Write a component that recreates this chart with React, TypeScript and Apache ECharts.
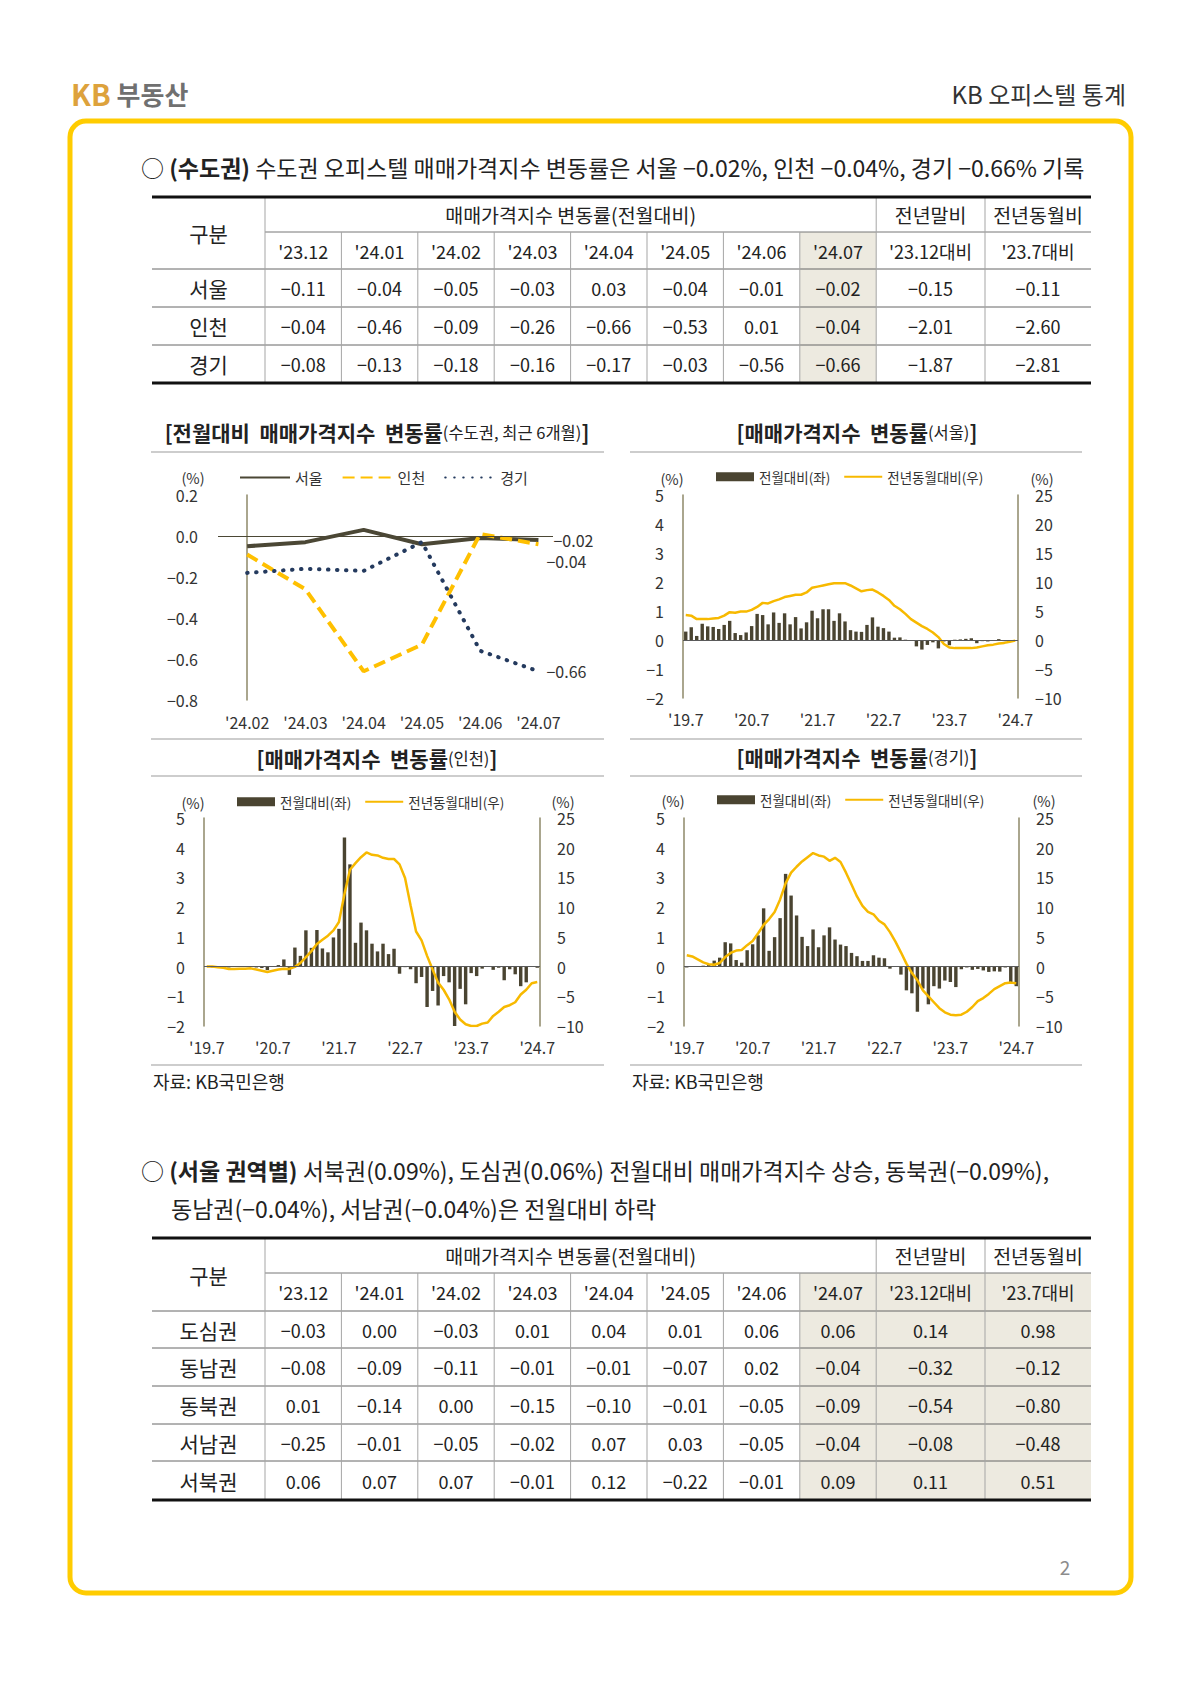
import React, { useEffect, useRef } from "react";
import * as echarts from "echarts";

const FONT = '"Noto Sans CJK KR", "Noto Sans", sans-serif';

// ---------------- data ----------------
const monthsLong = [
  "'19.7", "'19.8", "'19.9", "'19.10", "'19.11", "'19.12",
  "'20.1", "'20.2", "'20.3", "'20.4", "'20.5", "'20.6", "'20.7", "'20.8", "'20.9", "'20.10", "'20.11", "'20.12",
  "'21.1", "'21.2", "'21.3", "'21.4", "'21.5", "'21.6", "'21.7", "'21.8", "'21.9", "'21.10", "'21.11", "'21.12",
  "'22.1", "'22.2", "'22.3", "'22.4", "'22.5", "'22.6", "'22.7", "'22.8", "'22.9", "'22.10", "'22.11", "'22.12",
  "'23.1", "'23.2", "'23.3", "'23.4", "'23.5", "'23.6", "'23.7", "'23.8", "'23.9", "'23.10", "'23.11", "'23.12",
  "'24.1", "'24.2", "'24.3", "'24.4", "'24.5", "'24.6", "'24.7",
];

const recentMonths = ["'24.02", "'24.03", "'24.04", "'24.05", "'24.06", "'24.07"];

const tableMonths = ["'23.12", "'24.01", "'24.02", "'24.03", "'24.04", "'24.05", "'24.06", "'24.07"];
const tableCompare = ["'23.12대비", "'23.7대비"];

const metroRegions = ["서울", "인천", "경기"];
const metroSeoul = [-0.11, -0.04, -0.05, -0.03, 0.03, -0.04, -0.01, -0.02, -0.15, -0.11];
const metroIncheon = [-0.04, -0.46, -0.09, -0.26, -0.66, -0.53, 0.01, -0.04, -2.01, -2.6];
const metroGyeonggi = [-0.08, -0.13, -0.18, -0.16, -0.17, -0.03, -0.56, -0.66, -1.87, -2.81];

const districtNames = ["도심권", "동남권", "동북권", "서남권", "서북권"];
const districtDosim = [-0.03, 0.0, -0.03, 0.01, 0.04, 0.01, 0.06, 0.06, 0.14, 0.98];
const districtDongnam = [-0.08, -0.09, -0.11, -0.01, -0.01, -0.07, 0.02, -0.04, -0.32, -0.12];
const districtDongbuk = [0.01, -0.14, 0.0, -0.15, -0.1, -0.01, -0.05, -0.09, -0.54, -0.8];
const districtSeonam = [-0.25, -0.01, -0.05, -0.02, 0.07, 0.03, -0.05, -0.04, -0.08, -0.48];
const districtSeobuk = [0.06, 0.07, 0.07, -0.01, 0.12, -0.22, -0.01, 0.09, 0.11, 0.51];

const seoulMoM = [
  0.29, 0.44, 0.14, 0.56, 0.47, 0.45, 0.38, 0.52, 0.66, 0.24, 0.17, 0.26,
  0.48, 0.9, 0.86, 0.54, 0.95, 0.59, 0.92, 0.54, 0.79, 0.4, 0.61, 1.01,
  0.75, 1.06, 1.06, 0.66, 0.92, 0.64, 0.34, 0.29, 0.28, 0.52, 0.78, 0.46,
  0.41, 0.29, 0.08, 0.09, 0.01, -0.03, -0.22, -0.33, -0.17, -0.08, -0.29, -0.05,
  -0.18, 0.01, 0.02, 0.04, 0.06, -0.11, -0.04, -0.05, -0.03, 0.03, -0.04, -0.01, -0.02,
];
const seoulYoY = [
  4.3, 4.2, 3.6, 3.6, 3.6, 3.7, 3.8, 4.2, 4.8, 4.7, 4.9, 4.9,
  5.2, 5.7, 6.4, 6.3, 6.7, 7.0, 7.4, 7.6, 7.8, 7.8, 8.2, 9.0,
  9.2, 9.4, 9.6, 9.8, 9.8, 9.8, 9.4, 8.9, 8.4, 8.6, 8.7, 8.2,
  7.6, 6.9, 5.9, 5.3, 4.5, 3.6, 3.0, 2.4, 1.9, 1.3, 0.5, -0.7,
  -1.3, -1.4, -1.4, -1.4, -1.4, -1.3, -1.1, -0.9, -0.8, -0.6, -0.5, -0.3, -0.11,
];

const incheonMoM = [
  0.0, -0.03, -0.01, -0.01, -0.03, 0.0, 0.0, 0.0, -0.01, -0.03, -0.05, -0.12,
  0.0, 0.05, 0.24, -0.28, 0.64, 0.36, 1.22, 0.63, 1.23, 0.61, 0.48, 0.98,
  1.27, 4.34, 3.44, 0.8, 1.48, 1.22, 0.77, 0.51, 0.77, 0.42, 0.6, -0.24,
  -0.02, -0.09, -0.56, -0.35, -1.36, -0.82, -1.31, -0.32, -0.53, -2.0, -0.75, -1.27,
  -0.22, -0.32, -0.07, -0.01, -0.11, -0.04, -0.46, -0.09, -0.26, -0.66, -0.53, 0.01, -0.04,
];
const incheonYoY = [
  0.0, 0.0, -0.1, -0.2, -0.4, -0.4, -0.35, -0.35, -0.3, -0.5, -0.7, -0.9,
  -0.7, -0.5, -0.35, -0.4, -0.05, 0.6, 1.6, 2.6, 3.8, 4.5, 5.2, 6.1,
  7.5, 12.2, 16.3, 17.4, 18.4, 19.2, 18.8, 18.7, 18.3, 18.1, 18.1, 17.2,
  14.9, 10.3, 5.9, 4.4, 1.8, -0.5, -2.7, -3.9, -5.5, -7.6, -8.9, -9.7,
  -10.0, -10.0, -9.6, -9.4, -8.3, -7.6, -6.8, -6.5, -6.0, -4.7, -3.9, -2.8, -2.6,
];

const gyeonggiMoM = [
  -0.03, 0.01, 0.0, 0.03, 0.05, 0.2, 0.3, 0.82, 0.78, 0.22, 0.13, 0.55,
  0.75, 1.05, 1.96, 0.53, 0.99, 1.63, 3.12, 2.39, 1.72, 1.0, 0.69, 1.25,
  0.65, 1.05, 1.32, 0.91, 0.74, 0.69, 0.46, 0.35, 0.19, 0.19, 0.38, 0.3,
  0.28, -0.07, -0.01, -0.27, -0.8, -0.9, -1.52, -0.74, -1.27, -0.66, -0.74, -0.47,
  -0.52, -0.69, -0.09, -0.03, -0.11, -0.08, -0.13, -0.18, -0.16, -0.17, -0.03, -0.56, -0.66,
];
const gyeonggiYoY = [
  1.9, 1.7, 1.2, 0.7, 0.4, 0.3, 0.6, 1.6, 2.3, 2.7, 2.8, 3.6,
  4.3, 5.6, 7.0, 8.0, 9.2, 11.3, 14.0, 15.8, 16.8, 17.7, 18.4, 19.1,
  18.7, 18.5, 17.8, 18.3, 17.6, 15.8, 13.8, 11.8, 10.2, 9.2, 8.8, 7.7,
  7.1, 5.8, 4.2, 2.4, 0.5, -1.1, -2.3, -4.0, -5.0, -6.0, -7.0, -7.7,
  -8.1, -8.2, -8.1, -7.6, -6.8, -5.8, -5.3, -4.6, -3.8, -3.3, -2.8, -2.7, -2.81,
];

const unitLabel = "(%)";

// ---------------- styles / layout ----------------
const AXIS_COLOR = "#8E8968";
const BAR_COLOR = "#4A4431";
const YOY_COLOR = "#F7B900";
const TEXT = "#222";
const SEP = "#BDBDBD";
const HILITE = "#EDEAE0";
const TABLE_COLS = [152, 265, 341.4, 417.8, 494.2, 570.6, 647, 723.4, 799.8, 876.2, 985, 1091];
const TOP_ROWS = [197, 232, 269, 307, 345, 383];
const BOTTOM_ROWS = [1238, 1273, 1311, 1348, 1386, 1424, 1461, 1500];

const fmt2 = (v: number) => (v < 0 ? "\u2212" : "") + Math.abs(v).toFixed(2);
const fmtInt = (v: number) => (v < 0 ? "\u2212" : "") + Math.abs(v);
const fmt1 = (v: number) => {
  const r = Math.round(v * 10) / 10;
  return (r < 0 ? "\u2212" : "") + Math.abs(r).toFixed(1);
};

function txt(x: number, y: number, text: string, o: any = {}) {
  const align = o.align || "center";
  const va = o.va || "middle";
  return {
    type: "text",
    x,
    y,
    silent: true,
    style: {
      text,
      fontSize: o.size || 18,
      fontFamily: FONT,
      fontWeight: o.weight || "normal",
      fill: o.color || TEXT,
      align,
      verticalAlign: va,
      textAlign: align,
      textVerticalAlign: va,
      rich: o.rich,
    },
  };
}
function ln(x1: number, y1: number, x2: number, y2: number, stroke: string, w: number) {
  return { type: "line", silent: true, shape: { x1, y1, x2, y2 }, style: { stroke, lineWidth: w } };
}
function rc(x: number, y: number, w: number, h: number, fill: string) {
  return { type: "rect", silent: true, shape: { x, y, width: w, height: h }, style: { fill } };
}

function tableElements(rowsY: number[], names: string[], rows: number[][], hiTo: number) {
  const C = TABLE_COLS;
  const top = rowsY[0];
  const h1 = rowsY[1];
  const h2 = rowsY[2];
  const bottom = rowsY[rowsY.length - 1];
  const els: any[] = [];
  els.push(rc(C[8], h1, C[hiTo] - C[8], bottom - h1, HILITE));
  els.push(ln(C[1], h1, C[11], h1, "#777", 1));
  for (let r = 2; r < rowsY.length - 1; r++) els.push(ln(C[0], rowsY[r], C[11], rowsY[r], "#666", 1));
  [1, 9, 10].forEach((c) => els.push(ln(C[c], top, C[c], bottom, "#A5A5A5", 1)));
  for (let c = 2; c <= 8; c++) els.push(ln(C[c], h1, C[c], bottom, "#A5A5A5", 1));
  els.push(ln(C[0], top, C[11], top, "#111", 3));
  els.push(ln(C[0], bottom, C[11], bottom, "#111", 3));
  els.push(txt((C[0] + C[1]) / 2, (top + h2) / 2, "구분", { size: 21 }));
  els.push(txt((C[1] + C[9]) / 2, (top + h1) / 2, "매매가격지수 변동률(전월대비)", { size: 19.5 }));
  els.push(txt((C[9] + C[10]) / 2, (top + h1) / 2, "전년말비", { size: 19.5 }));
  els.push(txt((C[10] + C[11]) / 2, (top + h1) / 2, "전년동월비", { size: 19.5 }));
  const heads = [...tableMonths, ...tableCompare];
  heads.forEach((h, i) => els.push(txt((C[i + 1] + C[i + 2]) / 2, (h1 + h2) / 2, h, { size: 18 })));
  rows.forEach((row, r) => {
    const cy = (rowsY[r + 2] + rowsY[r + 3]) / 2;
    els.push(txt((C[0] + C[1]) / 2, cy, names[r], { size: 21 }));
    row.forEach((v, i) => els.push(txt((C[i + 1] + C[i + 2]) / 2, cy, fmt2(v), { size: 18 })));
  });
  return els;
}

function chartTitle(cx: number, cy: number, bold: string, normal: string) {
  return txt(cx, cy, `{b|[${bold}}{n|(${normal})}{b|]}`, {
    rich: {
      b: { fontSize: 21, fontWeight: "bold", fontFamily: FONT, fill: TEXT },
      n: { fontSize: 16.5, fontFamily: FONT, fill: TEXT },
    },
  });
}

function buildOption() {
  const axisLabelStyle = { color: "#333", fontSize: 16, fontFamily: FONT };
  const axisLine = { show: true, lineStyle: { color: AXIS_COLOR, width: 1.5 } };

  const grids = [
    { left: 218, top: 495, width: 335, height: 205 },
    { left: 683, top: 495, width: 335, height: 203 },
    { left: 204, top: 818, width: 336, height: 208 },
    { left: 684, top: 818, width: 335, height: 208 },
  ];

  const xAxis: any[] = [
    {
      type: "value",
      gridIndex: 0,
      min: -0.5,
      max: 5.25,
      axisLine: { show: false },
      axisTick: { show: false },
      splitLine: { show: false },
      axisLabel: {
        ...axisLabelStyle,
        margin: 14,
        customValues: [0, 1, 2, 3, 4, 5],
        formatter: (v: number) => recentMonths[Math.round(v)] || "",
      },
    },
  ];
  const yAxis: any[] = [
    {
      type: "value",
      gridIndex: 0,
      min: -0.8,
      max: 0.2,
      interval: 0.2,
      axisLine,
      axisTick: { show: false },
      splitLine: { show: false },
      axisLabel: { ...axisLabelStyle, margin: 20, formatter: fmt1 },
    },
  ];

  const series: any[] = [];
  const hiddenSymbol = { opacity: 0 };
  const legends: any[] = [
    {
      left: 234,
      top: 465,
      itemWidth: 50,
      itemHeight: 14,
      itemGap: 19,
      selectedMode: false,
      data: metroRegions.map((n) => ({ name: n, itemStyle: hiddenSymbol })),
      textStyle: { color: "#333", fontSize: 15, fontFamily: FONT },
    },
  ];

  const recentSeoul = metroSeoul.slice(2, 8);
  const recentIncheon = metroIncheon.slice(2, 8);
  const recentGyeonggi = metroGyeonggi.slice(2, 8);
  const endLabel = (offset: number[]) => ({
    show: true,
    formatter: (p: any) => fmt2(p.value[1]),
    distance: 8,
    offset,
    color: "#333",
    fontSize: 16,
    fontFamily: FONT,
  });
  series.push({
    name: metroRegions[0],
    type: "line",
    xAxisIndex: 0,
    yAxisIndex: 0,
    symbol: "none",
    data: recentSeoul.map((v, i) => [i, v]),
    lineStyle: { color: "#4B4735", width: 4 },
    itemStyle: { color: "#4B4735" },
    endLabel: endLabel([7, 0]),
    markLine: {
      silent: true,
      symbol: ["none", "none"],
      label: { show: false },
      lineStyle: { color: "#4B4735", width: 1.2, type: "solid" },
      data: [{ yAxis: 0 }],
    },
  });
  series.push({
    name: metroRegions[1],
    type: "line",
    xAxisIndex: 0,
    yAxisIndex: 0,
    symbol: "none",
    data: recentIncheon.map((v, i) => [i, v]),
    lineStyle: { color: "#FFC000", width: 4, type: [12, 6] },
    itemStyle: { color: "#FFC000" },
    endLabel: endLabel([0, 17]),
  });
  series.push({
    name: metroRegions[2],
    type: "line",
    xAxisIndex: 0,
    yAxisIndex: 0,
    symbol: "none",
    data: recentGyeonggi.map((v, i) => [i, v]),
    lineStyle: { color: "#243A5E", width: 4, type: [0.5, 8.5], cap: "round" },
    itemStyle: { color: "#243A5E" },
    endLabel: endLabel([0, 0]),
  });

  const dual = [
    { grid: 1, mom: seoulMoM, yoy: seoulYoY, legendLeft: 711, legendCy: 473 },
    { grid: 2, mom: incheonMoM, yoy: incheonYoY, legendLeft: 232, legendCy: 798 },
    { grid: 3, mom: gyeonggiMoM, yoy: gyeonggiYoY, legendLeft: 712, legendCy: 796 },
  ];
  dual.forEach((d) => {
    const xi = xAxis.length;
    xAxis.push({
      type: "category",
      gridIndex: d.grid,
      data: monthsLong,
      boundaryGap: true,
      axisLine: { show: false },
      axisTick: { show: false },
      axisLabel: { ...axisLabelStyle, interval: 11, margin: 13 },
    });
    const yl = yAxis.length;
    yAxis.push({
      type: "value",
      gridIndex: d.grid,
      position: "left",
      min: -2,
      max: 5,
      interval: 1,
      axisLine,
      axisTick: { show: false },
      splitLine: { show: false },
      axisLabel: { ...axisLabelStyle, margin: 19, formatter: fmtInt },
    });
    yAxis.push({
      type: "value",
      gridIndex: d.grid,
      position: "right",
      min: -10,
      max: 25,
      interval: 5,
      axisLine,
      axisTick: { show: false },
      splitLine: { show: false },
      axisLabel: { ...axisLabelStyle, margin: 17, formatter: fmtInt },
    });
    series.push({
      name: "전월대비(좌)",
      type: "bar",
      xAxisIndex: xi,
      yAxisIndex: yl,
      data: d.mom,
      barWidth: "62%",
      itemStyle: { color: BAR_COLOR },
      markLine: {
        silent: true,
        symbol: ["none", "none"],
        label: { show: false },
        lineStyle: { color: "#5A5A5A", width: 1.2, type: "solid" },
        data: [{ yAxis: 0 }],
      },
    });
    series.push({
      name: "전년동월대비(우)",
      type: "line",
      xAxisIndex: xi,
      yAxisIndex: yl + 1,
      data: d.yoy,
      symbol: "none",
      lineStyle: { color: YOY_COLOR, width: 2.5 },
      itemStyle: { color: YOY_COLOR },
    });
    legends.push({
      left: d.legendLeft,
      top: d.legendCy - 8,
      itemWidth: 38,
      itemHeight: 9,
      itemGap: 13,
      selectedMode: false,
      data: [
        { name: "전월대비(좌)", icon: "rect" },
        { name: "전년동월대비(우)", itemStyle: hiddenSymbol },
      ],
      textStyle: { color: "#333", fontSize: 13.5, fontFamily: FONT },
    });
  });

  // ---------- graphic (page furniture, texts, tables) ----------
  const g: any[] = [];
  g.push({
    type: "rect",
    silent: true,
    shape: { x: 70, y: 121, width: 1061, height: 1472, r: 16 },
    style: { fill: "none", stroke: "#FFCC00", lineWidth: 5 },
  });
  g.push(
    txt(71, 93, "{k|KB}{s| 부동산}", {
      align: "left",
      rich: {
        k: { fontSize: 29, fontWeight: "bold", fontFamily: FONT, fill: "#DDA23C" },
        s: { fontSize: 26, fontWeight: "bold", fontFamily: FONT, fill: "#707070" },
      },
    })
  );
  g.push(txt(1126, 93, "KB 오피스텔 통계", { align: "right", size: 24, color: "#333" }));

  const boldRich = (size: number) => ({
    b: { fontSize: size, fontWeight: "bold", fontFamily: FONT, fill: TEXT },
  });
  g.push(
    txt(
      141,
      167,
      `○ {b|(수도권)} 수도권 오피스텔 매매가격지수 변동률은 ${metroRegions[0]} ${fmt2(metroSeoul[7])}%, ${metroRegions[1]} ${fmt2(metroIncheon[7])}%, ${metroRegions[2]} ${fmt2(metroGyeonggi[7])}% 기록`,
      { align: "left", size: 23, rich: boldRich(23) }
    )
  );

  g.push(...tableElements(TOP_ROWS, metroRegions, [metroSeoul, metroIncheon, metroGyeonggi], 9));

  // chart panel separators
  [
    [151, 604],
    [630, 1082],
  ].forEach(([a, b]) => {
    g.push(ln(a, 452, b, 452, SEP, 1.5));
    g.push(ln(a, 739, b, 739, SEP, 1.5));
    g.push(ln(a, 776, b, 776, SEP, 1.5));
    g.push(ln(a, 1065, b, 1065, SEP, 1.5));
  });
  g.push(chartTitle(377, 432, "전월대비  매매가격지수  변동률", "수도권, 최근 6개월"));
  g.push(chartTitle(857, 432, "매매가격지수  변동률", metroRegions[0]));
  g.push(chartTitle(377, 758, "매매가격지수  변동률", metroRegions[1]));
  g.push(chartTitle(857, 757, "매매가격지수  변동률", metroRegions[2]));

  // axis unit labels
  const unitPos = [
    [193, 477],
    [672, 478],
    [1042, 478],
    [193, 802],
    [563, 801],
    [673, 800],
    [1044, 800],
  ];
  unitPos.forEach(([x, y]) => g.push(txt(x, y, unitLabel, { size: 14.5, color: "#333" })));

  g.push(txt(153, 1081, "자료: KB국민은행", { align: "left", size: 18 }));
  g.push(txt(632, 1081, "자료: KB국민은행", { align: "left", size: 18 }));

  g.push(
    txt(
      141,
      1170,
      `○ {b|(서울 권역별)} ${districtNames[4]}(${fmt2(districtSeobuk[7])}%), ${districtNames[0]}(${fmt2(districtDosim[7])}%) 전월대비 매매가격지수 상승, ${districtNames[2]}(${fmt2(districtDongbuk[7])}%),`,
      { align: "left", size: 23, rich: boldRich(23) }
    )
  );
  g.push(
    txt(
      171,
      1208,
      `${districtNames[1]}(${fmt2(districtDongnam[7])}%), ${districtNames[3]}(${fmt2(districtSeonam[7])}%)은 전월대비 하락`,
      { align: "left", size: 23 }
    )
  );
  g.push(
    ...tableElements(
      BOTTOM_ROWS,
      districtNames,
      [districtDosim, districtDongnam, districtDongbuk, districtSeonam, districtSeobuk],
      11
    )
  );
  g.push(txt(1065, 1566, "2", { size: 19, color: "#8C8C8C" }));

  return {
    animation: false,
    backgroundColor: "#ffffff",
    textStyle: { fontFamily: FONT },
    grid: grids,
    xAxis,
    yAxis,
    legend: legends,
    series,
    graphic: { elements: g },
  };
}

export default function App() {
  const ref = useRef<HTMLDivElement>(null);
  useEffect(() => {
    if (!ref.current) return;
    const chart = echarts.init(ref.current, null, { renderer: "svg" });
    chart.setOption(buildOption() as any);
    return () => chart.dispose();
  }, []);
  return (
    <div
      ref={ref}
      style={{ position: "absolute", left: 0, top: 0, width: 1190, height: 1683, background: "#fff" }}
    />
  );
}
